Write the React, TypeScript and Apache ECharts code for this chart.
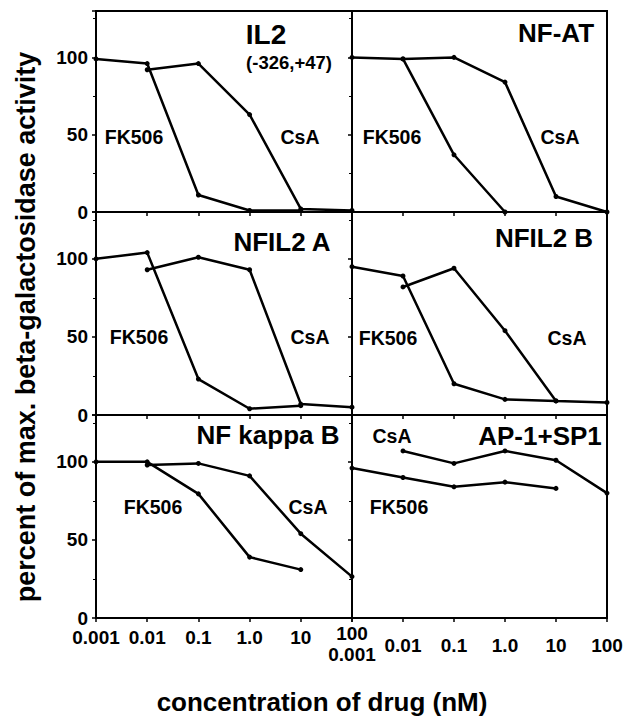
import React, { useEffect, useRef } from "react";
import * as echarts from "echarts";

// concentrations (nM)
const fkX = [0.001, 0.01, 0.1, 1, 10];
const csX = [0.01, 0.1, 1, 10, 100];
const nfatFkX = [0.001, 0.01, 0.1, 1];

// percent of max. beta-galactosidase activity
const il2FK = [99, 96, 11, 1, 1];
const il2CsA = [92, 96, 63, 2, 1];
const nfatFK = [100, 99, 37, 0];
const nfatCsA = [99, 100, 84, 10, 0];
const nfil2aFK = [100, 104, 23, 4, 6];
const nfil2aCsA = [93, 101, 93, 7, 5];
const nfil2bFK = [95, 89, 20, 10, 9];
const nfil2bCsA = [82, 94, 54, 9, 8];
const nfkbFK = [100, 100, 79.5, 39, 31];
const nfkbCsA = [98, 99, 91, 54, 26.5];
const ap1FK = [96, 90, 84, 87, 83];
const ap1CsA = [107, 99, 107, 101, 80];

const panelTitles = ["IL2", "NF-AT", "NFIL2 A", "NFIL2 B", "NF kappa B", "AP-1+SP1"];
const xTickLabels: Record<number, string> = { [-3]: "0.001", [-2]: "0.01", [-1]: "0.1", 0: "1.0", 1: "10", 2: "100" };
const yTitle = "percent of max. beta-galactosidase activity";
const xTitle = "concentration of drug (nM)";

const FONT = '"Liberation Sans", Arial, Helvetica, sans-serif';

const zip = (xs: number[], ys: number[]) => ys.map((y, i) => [xs[i], y]);

export default function App() {
  const ref = useRef<HTMLDivElement>(null);
  useEffect(() => {
    if (!ref.current) return;
    const chart = echarts.init(ref.current, undefined, { renderer: "svg" });

    const colLeft = [96, 352];
    const colWidth = [256, 255];
    const rowTop = [11, 212, 415];
    const rowHeight = [201, 203, 203];

    const grids: any[] = [];
    const xAxes: any[] = [];
    const yAxes: any[] = [];
    for (let i = 0; i < 6; i++) {
      const r = Math.floor(i / 2);
      const c = i % 2;
      grids.push({
        left: colLeft[c],
        top: rowTop[r],
        width: colWidth[c],
        height: rowHeight[r],
        show: true,
        borderColor: "#000",
        borderWidth: 2,
        backgroundColor: "transparent",
      });
      const bottomRow = r === 2;
      xAxes.push({
        type: "log",
        logBase: 10,
        min: 0.001,
        max: 100,
        gridIndex: i,
        splitNumber: 5,
        axisLine: { show: true, lineStyle: { color: "#000", width: 2 } },
        axisTick: { show: true, inside: false, length: 4, lineStyle: { color: "#000", width: 1.5 } },
        splitLine: { show: false },
        axisLabel: {
          show: bottomRow,
          margin: c === 0 ? 12 : 20,
          color: "#000",
          fontFamily: FONT,
          fontWeight: "bold",
          fontSize: 19,
          lineHeight: 14,
          formatter: (v: number) => {
            const e = Math.round(Math.log10(v));
            // the shared boundary labels (100 | 0.001) are placed separately below
            if (c === 0 && e === 2) return "";
            if (c === 1 && e === -3) return "";
            return xTickLabels[e] ?? "";
          },
        },
      });
      yAxes.push({
        type: "value",
        min: 0,
        max: 130,
        interval: 50,
        gridIndex: i,
        axisLine: { show: true, lineStyle: { color: "#000", width: 2 } },
        axisTick: { show: true, inside: false, length: 4, lineStyle: { color: "#000", width: 1.5 } },
        minorTick: { show: true, splitNumber: 2, length: 3, lineStyle: { color: "#000", width: 1 } },
        splitLine: { show: false },
        axisLabel: {
          show: c === 0,
          margin: 8,
          color: "#000",
          fontFamily: FONT,
          fontWeight: "bold",
          fontSize: 19,
          lineHeight: 14,
          showMaxLabel: false,
          formatter: (v: number) => (v % 50 === 0 && v <= 100 ? String(v) : ""),
        },
      });
    }

    const lineSeries = (idx: number, xs: number[], ys: number[], name: string) => ({
      type: "line",
      name,
      xAxisIndex: idx,
      yAxisIndex: idx,
      data: zip(xs, ys),
      symbol: "circle",
      symbolSize: 5,
      itemStyle: { color: "#000" },
      lineStyle: { color: "#000", width: 2.5 },
      z: 3,
    });

    const series = [
      lineSeries(0, fkX, il2FK, "FK506"),
      lineSeries(0, csX, il2CsA, "CsA"),
      lineSeries(1, nfatFkX, nfatFK, "FK506"),
      lineSeries(1, csX, nfatCsA, "CsA"),
      lineSeries(2, fkX, nfil2aFK, "FK506"),
      lineSeries(2, csX, nfil2aCsA, "CsA"),
      lineSeries(3, fkX, nfil2bFK, "FK506"),
      lineSeries(3, csX, nfil2bCsA, "CsA"),
      lineSeries(4, fkX, nfkbFK, "FK506"),
      lineSeries(4, csX, nfkbCsA, "CsA"),
      lineSeries(5, fkX, ap1FK, "FK506"),
      lineSeries(5, csX, ap1CsA, "CsA"),
    ];

    const txt = (text: string, x: number, y: number, size: number, rotation = 0) => ({
      type: "text",
      x,
      y,
      rotation,
      z: 10,
      style: {
        text,
        fill: "#000",
        font: `bold ${size}px ${FONT}`,
        align: "center",
        verticalAlign: "middle",
      },
    });

    const T = 26;
    const L = 19.5;
    const graphics = [
      txt(panelTitles[0], 266, 34, 28),
      txt("(-326,+47)", 289, 62, 18.5),
      txt("FK506", 134, 137, L),
      txt("CsA", 300, 137, L),
      txt(panelTitles[1], 556, 33, T),
      txt("FK506", 392, 137, L),
      txt("CsA", 560, 137, L),
      txt(panelTitles[2], 282, 242, T),
      txt("FK506", 139, 337, L),
      txt("CsA", 310, 337, L),
      txt(panelTitles[3], 544, 238, T),
      txt("FK506", 388, 338, L),
      txt("CsA", 567, 338, L),
      txt(panelTitles[4], 268, 435, T),
      txt("FK506", 153, 507, L),
      txt("CsA", 308, 507, L),
      txt(panelTitles[5], 540, 436, T),
      txt("CsA", 392, 436, L),
      txt("FK506", 399, 507, L),
      // boundary tick labels between the two bottom panels
      txt(xTickLabels[2], 352, 633, 19),
      txt(xTickLabels[-3], 352, 654, 19),
      txt(yTitle, 26, 327, 27, Math.PI / 2),
      txt(xTitle, 322, 702, 26),
    ];

    chart.setOption({
      animation: false,
      backgroundColor: "#fff",
      grid: grids,
      xAxis: xAxes,
      yAxis: yAxes,
      series,
      graphic: graphics,
    });
    return () => chart.dispose();
  }, []);
  return (
    <div
      ref={ref}
      style={{ position: "fixed", left: 0, top: 0, width: 637, height: 717 }}
    />
  );
}
